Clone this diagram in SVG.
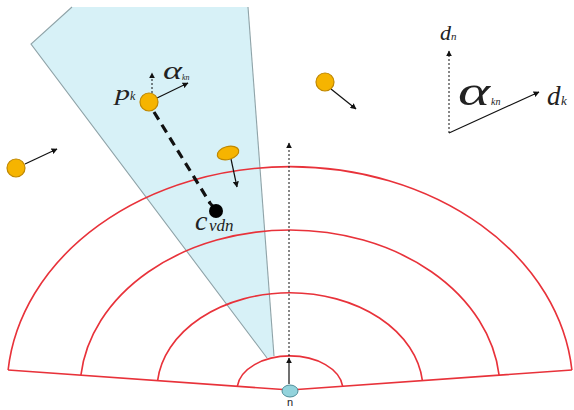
<svg xmlns="http://www.w3.org/2000/svg" width="574" height="410" viewBox="0 0 574 410">
<style>
.arc{fill:none;stroke:#e8323a;stroke-width:1.6}
.edge{fill:none;stroke:#8fa3a8;stroke-width:1.1}
.pt{fill:#f6b400;stroke:#c08800;stroke-width:1.2}
.ar{stroke:#111;stroke-width:1.2;fill:none;marker-end:url(#ah)}
.dot{stroke:#111;stroke-width:1;fill:none;stroke-dasharray:2 2;marker-end:url(#ah)}
.m{font-family:"Liberation Serif","Times New Roman",serif;font-style:italic;fill:#222}
.s{font-family:"Liberation Sans",Arial,sans-serif;fill:#222}
</style>
<defs>
<marker id="ah" viewBox="0 0 10 10" refX="9" refY="5" markerWidth="6" markerHeight="6" markerUnits="userSpaceOnUse" orient="auto">
<path d="M0,0 L10,5 L0,10 z" fill="#111"/>
</marker>
</defs>
<rect width="574" height="410" fill="#fff"/>
<g id="sector">
<polygon points="72,7 31,44 267,358 274,356 248,7" fill="#d7f1f7"/>
<polyline class="edge" points="72,7 31,44 267,358"/>
<line class="edge" x1="248" y1="7" x2="274" y2="356"/>
</g>
<g id="rings">
<path class="arc" d="M8.1,370 A283,223 0 0 1 571.9,370"/>
<path class="arc" d="M80.9,375.2 A210,160 0 0 1 499.1,375.2"/>
<path class="arc" d="M157.6,380.6 A133,97 0 0 1 422.4,380.6"/>
<path class="arc" d="M237.3,386.3 A53,34 0 0 1 342.7,386.3"/>
<polyline class="arc" points="8.1,370 290,390 571.9,370"/>
</g>
<g id="connectors">
<line class="dot" x1="289" y1="356" x2="289" y2="143"/>
<line class="ar" x1="289" y1="384" x2="289" y2="358"/>
<line x1="154" y1="112" x2="210" y2="203" stroke="#111" stroke-width="3.2" stroke-dasharray="9 6"/>
<line x1="209" y1="202" x2="216" y2="210" stroke="#111" stroke-width="3"/>
<line class="dot" x1="152" y1="93" x2="152" y2="73"/>
<line class="ar" x1="157" y1="98" x2="188" y2="83"/>
<line class="ar" x1="25" y1="164" x2="57" y2="149"/>
<line class="ar" x1="331" y1="89" x2="356" y2="109"/>
<line class="ar" x1="231" y1="159" x2="237" y2="187"/>
<line class="dot" x1="449" y1="133" x2="449" y2="51"/>
<line class="ar" x1="449" y1="133" x2="539" y2="92"/>
</g>
<g id="node-n">
<ellipse cx="290" cy="391" rx="8" ry="6" fill="#93d3dc" stroke="#4f8e99" stroke-width="1"/>
<text class="s" x="290" y="406" font-size="11" text-anchor="middle">n</text>
</g>
<g id="node-pk">
<circle class="pt" cx="149" cy="102" r="9"/>
<text class="m" x="115" y="100" font-size="22" textLength="15" lengthAdjust="spacingAndGlyphs">p</text>
<text class="m" x="130" y="100" font-size="12">k</text>
<text class="m" x="163" y="79" font-size="26" textLength="19" lengthAdjust="spacingAndGlyphs">α</text>
<text class="m" x="182" y="80" font-size="8">kn</text>
</g>
<g id="node-cvdn">
<circle cx="216" cy="211" r="7" fill="#000"/>
<text class="m" x="195" y="230" font-size="28">c</text>
<text class="m" x="209" y="231" font-size="17">vdn</text>
</g>
<g id="node-ellipse">
<ellipse class="pt" cx="228" cy="153" rx="11" ry="6.5" transform="rotate(-15 228 153)"/>
</g>
<g id="node-left">
<circle class="pt" cx="16" cy="168" r="9"/>
</g>
<g id="node-right">
<circle class="pt" cx="325" cy="82" r="9"/>
</g>
<g id="legend">
<text class="m" x="440" y="40" font-size="22">d</text>
<text class="m" x="451" y="40" font-size="11">n</text>
<text class="m" x="458" y="105" font-size="42" textLength="32" lengthAdjust="spacingAndGlyphs">α</text>
<text class="m" x="491" y="105" font-size="10">kn</text>
<text class="m" x="547" y="105" font-size="27">d</text>
<text class="m" x="561" y="105" font-size="13">k</text>
</g>
</svg>
